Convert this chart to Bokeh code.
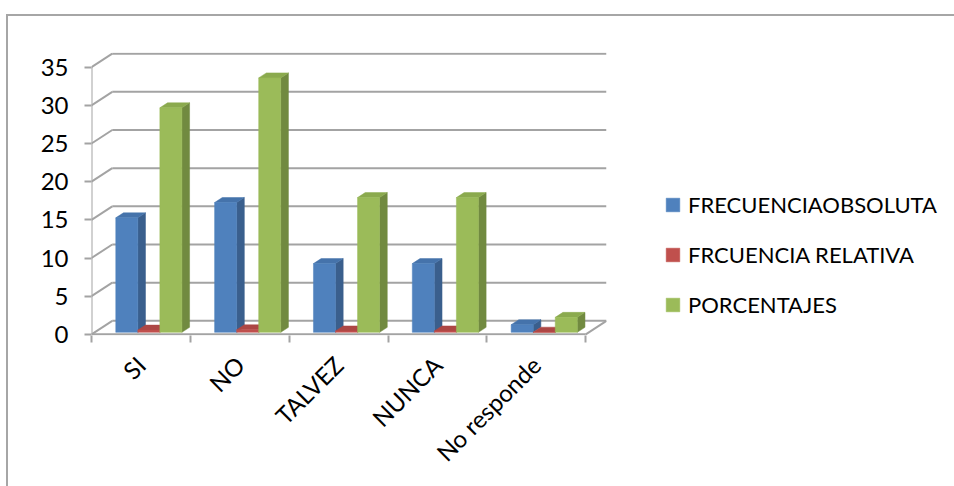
import math

from bokeh.embed import file_html
from bokeh.models import (ColumnDataSource, FixedTicker, Legend, LegendItem,
                          LinearAxis, Range1d)
from bokeh.plotting import figure
from bokeh.resources import INLINE

# ---- data -------------------------------------------------------------
categories = ["SI", "NO", "TALVEZ", "NUNCA", "No responde"]
frecuencia_absoluta = [15, 17, 9, 9, 1]
frecuencia_relativa = [0.29, 0.33, 0.18, 0.18, 0.02]
porcentajes = [29.41, 33.33, 17.65, 17.65, 1.96]
series_names = ["FRECUENCIAOBSOLUTA", "FRCUENCIA RELATIVA", "PORCENTAJES"]
y_ticks = [0, 5, 10, 15, 20, 25, 30, 35]

# ---- style ------------------------------------------------------------
FONT = "Lato"
GRID = "#a3a3a3"
face_colors = ["#4F81BD", "#C0504D", "#9BBB59"]
side_colors = ["#3A5F8D", "#923C3A", "#718A40"]
top_colors = ["#4573AB", "#AD4744", "#8BAA4E"]

# oblique projection of the depth axis (in data units)
DX = 0.21      # horizontal shift of the back wall, in category units
DY = 1.77      # vertical shift of the back wall, in value units
Y_MAX = 35

# bar layout inside a category slot
GAP = 0.214    # space left of the first bar
BAR_W = 0.223  # width of one bar
D0, D1 = 0.15, 0.52   # front and back depth of the bars (fraction of full depth)

p = figure(frame_width=515, frame_height=283, margin=(14, 0, 0, 6),
           x_range=Range1d(0, len(categories) + DX),
           y_range=Range1d(-0.15, Y_MAX + DY + 0.15),
           x_axis_type=None, y_axis_type=None,
           min_border_left=83, min_border_right=350,
           min_border_top=36, min_border_bottom=153,
           output_backend="svg", toolbar_location=None)
p.styles = {"border-top": "2px solid #a6a6a6", "border-left": "2px solid #a6a6a6"}
p.outline_line_color = None
p.xgrid.visible = False
p.ygrid.visible = False
p.background_fill_color = "white"
p.border_fill_color = "white"

n = len(categories)

# ---- walls and floor --------------------------------------------------
# back-wall gridlines plus the diagonals on the left wall
gx0, gx1, gy0, gy1 = [], [], [], []
for v in y_ticks:
    gx0 += [DX, 0]
    gx1 += [n + DX, DX]
    gy0 += [v + DY, v]
    gy1 += [v + DY, v + DY]
p.segment(x0=gx0, y0=gy0, x1=gx1, y1=gy1, line_color=GRID, line_width=2)

# front vertical axis edge, floor front edge and floor right edge
p.segment(x0=[0, 0, n], y0=[0, 0, 0], x1=[0, n, n + DX], y1=[Y_MAX, 0, DY],
          line_color=GRID, line_width=2)

# ---- 3-D columns -----------------------------------------------------
all_series = [frecuencia_absoluta, frecuencia_relativa, porcentajes]
front_renderers = []
sx0, sy0 = D0 * DX, D0 * DY
sx1, sy1 = D1 * DX, D1 * DY
for j, values in enumerate(all_series):
    left, right, bottom, top = [], [], [], []
    side_x, side_y, top_x, top_y = [], [], [], []
    for i, v in enumerate(values):
        x0 = i + GAP + j * BAR_W
        x1 = x0 + BAR_W
        left.append(x0 + sx0)
        right.append(x1 + sx0)
        bottom.append(sy0)
        top.append(v + sy0)
        side_x.append([x1 + sx0, x1 + sx1, x1 + sx1, x1 + sx0])
        side_y.append([sy0, sy1, v + sy1, v + sy0])
        top_x.append([x0 + sx0, x1 + sx0, x1 + sx1, x0 + sx1])
        top_y.append([v + sy0, v + sy0, v + sy1, v + sy1])
    p.patches(xs=side_x, ys=side_y, fill_color=side_colors[j],
              line_color=side_colors[j], line_width=0.5)
    p.patches(xs=top_x, ys=top_y, fill_color=top_colors[j],
              line_color=top_colors[j], line_width=0.5)
    src = ColumnDataSource(dict(left=left, right=right, bottom=bottom, top=top))
    r = p.quad(left="left", right="right", bottom="bottom", top="top", source=src,
               fill_color=face_colors[j], line_color=face_colors[j], line_width=0.5)
    front_renderers.append(r)

# ---- axes -------------------------------------------------------------
yaxis = LinearAxis(ticker=FixedTicker(ticks=y_ticks))
yaxis.axis_line_color = None
yaxis.major_tick_line_color = GRID
yaxis.major_tick_line_width = 2
yaxis.major_tick_out = 7
yaxis.major_tick_in = 0
yaxis.minor_tick_line_color = None
yaxis.major_label_standoff = 16
yaxis.major_label_text_font = FONT
yaxis.major_label_text_font_size = "24px"
yaxis.major_label_text_color = "black"
p.add_layout(yaxis, "left")

centers = [i + 0.5 for i in range(n)]
xaxis = LinearAxis(ticker=FixedTicker(ticks=centers, minor_ticks=list(range(n + 1))))
xaxis.major_label_overrides = {c: name for c, name in zip(centers, categories)}
xaxis.axis_line_color = None
xaxis.major_tick_line_color = None
xaxis.minor_tick_line_color = GRID
xaxis.minor_tick_line_width = 2
xaxis.minor_tick_out = 7
xaxis.minor_tick_in = 0
xaxis.major_label_orientation = math.pi / 4
xaxis.major_label_standoff = 18
xaxis.major_label_text_font = FONT
xaxis.major_label_text_font_size = "24px"
xaxis.major_label_text_color = "black"
p.add_layout(xaxis, "below")

# ---- legend -----------------------------------------------------------
legend = Legend(
    items=[LegendItem(label=name, renderers=[r])
           for name, r in zip(series_names, front_renderers)],
    location=(58, 17),
    orientation="vertical",
    glyph_width=17, glyph_height=17,
    label_standoff=7, spacing=23,
    padding=0, margin=0,
    border_line_color=None, background_fill_alpha=0,
    label_text_font=FONT, label_text_font_size="22px",
    label_text_color="black",
)
p.add_layout(legend, "right")

open("out.html", "w").write(file_html(p, INLINE))
